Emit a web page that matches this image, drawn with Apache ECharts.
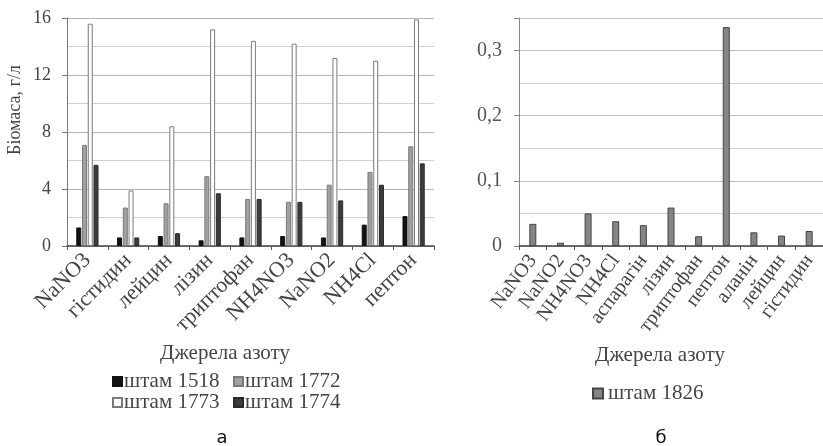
<!DOCTYPE html>
<html>
<head>
<meta charset="utf-8">
<script src="https://cdn.jsdelivr.net/npm/echarts@6/dist/echarts.min.js"></script>
<style>
html,body{margin:0;padding:0;background:#fff;}
#chart{width:823px;height:446px;}
</style>
</head>
<body>
<div id="chart"></div>
<script>
// ---- data ----
const catsA = ['NaNO3', 'гістидин', 'лейцин', 'лізин', 'триптофан', 'NH4NO3', 'NaNO2', 'NH4Cl', 'пептон'];
const s1518 = [1.3, 0.6, 0.7, 0.4, 0.6, 0.7, 0.6, 1.5, 2.1];
const s1772 = [7.1, 2.7, 3.0, 4.9, 3.3, 3.1, 4.3, 5.2, 7.0];
const s1773 = [15.6, 3.9, 8.4, 15.2, 14.4, 14.2, 13.2, 13.0, 15.9];
const s1774 = [5.7, 0.6, 0.9, 3.7, 3.3, 3.1, 3.2, 4.3, 5.8];
const catsB = ['NaNO3', 'NaNO2', 'NH4NO3', 'NH4Cl', 'аспарагін', 'лізин', 'триптофан', 'пептон', 'аланін', 'лейцин', 'гістидин'];
const s1826 = [0.034, 0.005, 0.05, 0.038, 0.032, 0.059, 0.015, 0.336, 0.021, 0.016, 0.023];
const namesA = ['штам 1518', 'штам 1772', 'штам 1773', 'штам 1774'];
const nameB = 'штам 1826';

const SERIF = '"Liberation Serif", "DejaVu Serif", serif';
const txt = '#444';
const chart = echarts.init(document.getElementById('chart'), null, {renderer: 'canvas'});

const colorsA = [
  {color: '#111111', borderColor: '#111111'},
  {color: '#a0a0a0', borderColor: '#7a7a7a'},
  {color: '#ffffff', borderColor: '#7a7a7a'},
  {color: '#3c3c3c', borderColor: '#2a2a2a'}
];
const dataA = [s1518, s1772, s1773, s1774];

const seriesA = namesA.map((n, i) => ({
  name: n, type: 'bar', xAxisIndex: 0, yAxisIndex: 0,
  data: dataA[i], barWidth: 5, barGap: '15%',
  itemStyle: {color: colorsA[i].color, borderColor: colorsA[i].borderColor, borderWidth: 1},
  emphasis: {disabled: true}
}));

const legendPos = [[112, 371], [233, 371], [112, 392], [233, 392]];
const legends = namesA.map((n, i) => ({
  data: [n], left: legendPos[i][0], top: legendPos[i][1],
  itemWidth: 9, itemHeight: 9, itemGap: 0, icon: 'rect',
  textStyle: {fontFamily: SERIF, fontSize: 21, color: txt, padding: [0, 0, 0, -3]},
  padding: 0, selectedMode: false
}));
legends.push({
  data: [nameB], left: 592, top: 383,
  itemWidth: 10, itemHeight: 10, icon: 'rect',
  textStyle: {fontFamily: SERIF, fontSize: 21, color: txt},
  padding: 0, selectedMode: false
});

const option = {
  animation: false,
  backgroundColor: '#fff',
  legend: legends,
  grid: [
    {left: 67, top: 18, width: 367, height: 228, containLabel: false},
    {left: 519, top: 18, width: 309, height: 228, containLabel: false}
  ],
  xAxis: [
    {
      type: 'category', gridIndex: 0, data: catsA,
      axisLine: {lineStyle: {color: '#444', width: 1.5}},
      axisTick: {show: true, length: 4, lineStyle: {color: '#555'}},
      axisLabel: {rotate: 45, interval: 0, margin: 11, fontFamily: SERIF, fontSize: 22, color: txt}
    },
    {
      type: 'category', gridIndex: 1, data: catsB,
      axisLine: {lineStyle: {color: '#444', width: 1.5}},
      axisTick: {show: true, length: 4, lineStyle: {color: '#555'}},
      axisLabel: {rotate: 53, interval: 0, margin: 11, fontFamily: SERIF, fontSize: 20, color: txt}
    }
  ],
  yAxis: [
    {
      type: 'value', gridIndex: 0, min: 0, max: 16, interval: 4,
      axisLine: {show: true, lineStyle: {color: '#777'}},
      axisTick: {show: true, length: 5, lineStyle: {color: '#777'}},
      axisLabel: {margin: 16, fontFamily: SERIF, fontSize: 18, color: txt},
      splitLine: {lineStyle: {color: '#b5b5b5'}},
      minorTick: {show: false, splitNumber: 2},
      minorSplitLine: {show: true, lineStyle: {color: '#cfcfcf'}}
    },
    {
      type: 'value', gridIndex: 1, min: 0, max: 0.35, interval: 0.1,
      axisLine: {show: true, lineStyle: {color: '#888'}},
      axisTick: {show: true, length: 5, lineStyle: {color: '#888'}},
      axisLabel: {
        margin: 17, fontFamily: SERIF, fontSize: 20, color: '#555',
        formatter: v => {
          const r = Math.round(v * 100) / 100;
          if (Math.abs(r * 10 - Math.round(r * 10)) > 1e-6) return '';
          return r === 0 ? '0' : r.toFixed(1).replace('.', ',');
        }
      },
      splitLine: {lineStyle: {color: '#bdbdbd'}},
      minorTick: {show: false, splitNumber: 2},
      minorSplitLine: {show: true, lineStyle: {color: '#cdcdcd'}}
    }
  ],
  series: seriesA.concat([{
    name: nameB, type: 'bar', xAxisIndex: 1, yAxisIndex: 1,
    data: s1826, barWidth: 7,
    itemStyle: {color: '#858585', borderColor: '#444', borderWidth: 1},
    emphasis: {disabled: true}
  }]),
  graphic: [
    {type: 'text', x: 15, y: 110, rotation: Math.PI / 2,
      style: {text: 'Біомаса, г/л', font: '18px ' + SERIF, fill: txt, align: 'center', verticalAlign: 'middle'}},
    {type: 'text', x: 225, y: 353,
      style: {text: 'Джерела азоту', font: '21px ' + SERIF, fill: txt, align: 'center', verticalAlign: 'middle'}},
    {type: 'text', x: 660, y: 355,
      style: {text: 'Джерела азоту', font: '21px ' + SERIF, fill: txt, align: 'center', verticalAlign: 'middle'}},
    {type: 'text', x: 222, y: 438,
      style: {text: 'а', font: '18px "DejaVu Sans", sans-serif', fill: '#111', align: 'center', verticalAlign: 'middle'}},
    {type: 'text', x: 661, y: 438,
      style: {text: 'б', font: '18px "DejaVu Sans", sans-serif', fill: '#111', align: 'center', verticalAlign: 'middle'}}
  ]
};
chart.setOption(option);
</script>
</body>
</html>
